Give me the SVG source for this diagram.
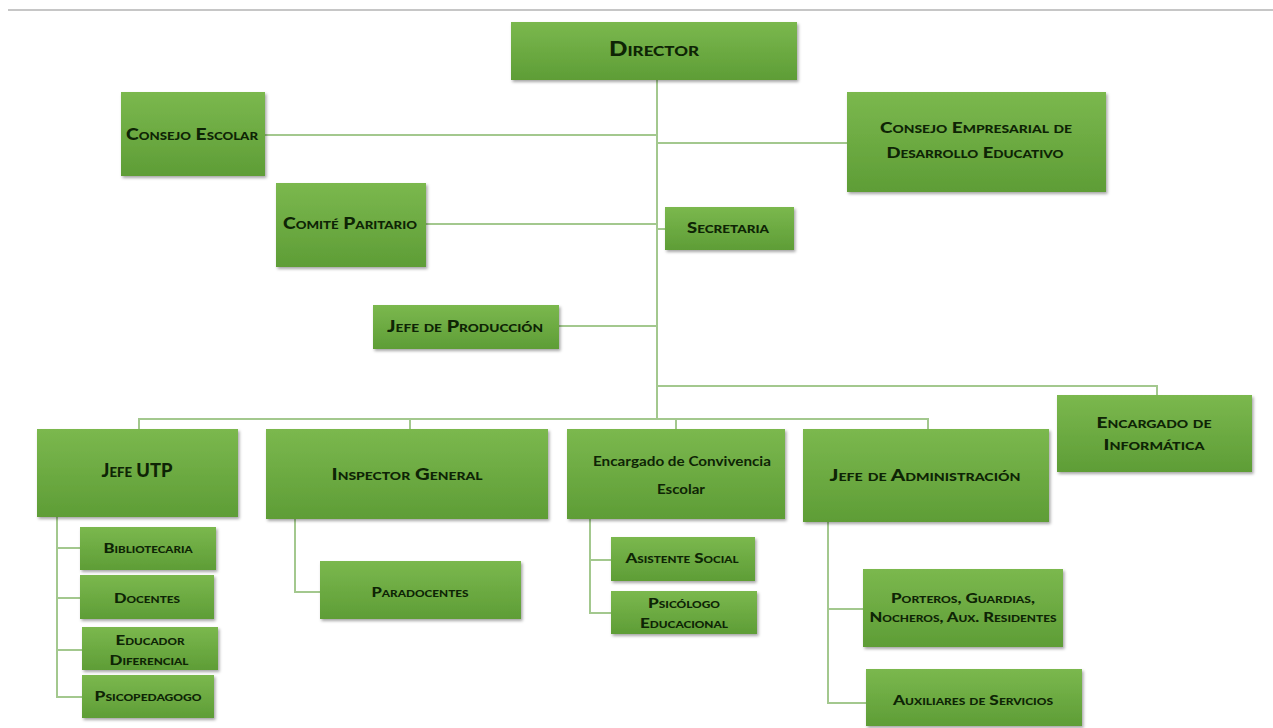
<svg xmlns="http://www.w3.org/2000/svg" width="1273" height="728" viewBox="0 0 1273 728">
<defs>
<linearGradient id="g" x1="0" y1="0" x2="0" y2="1">
<stop offset="0" stop-color="#7bb84e"/>
<stop offset="1" stop-color="#5e9d36"/>
</linearGradient>
<filter id="sh" x="-10%" y="-10%" width="125%" height="130%">
<feDropShadow dx="1.5" dy="2" stdDeviation="1.5" flood-color="#000" flood-opacity="0.35"/>
</filter>
</defs>
<style>
.box{fill:url(#g);filter:url(#sh);}
.t{font-family:Lato,"Open Sans","Liberation Sans",sans-serif;font-weight:900;font-variant:small-caps;fill:#0e2405;text-anchor:middle;}
.n{font-variant:normal;font-weight:bold;}
.c{fill:none;stroke:#a3c88e;stroke-width:2;}
</style>
<rect width="1273" height="728" fill="#ffffff"/>
<line x1="8" y1="10" x2="1273" y2="10" stroke="#c6c6c6" stroke-width="2"/>
<g id="connectors">
<path class="c" d="M657 80V419"/>
<path class="c" d="M265 135H657"/>
<path class="c" d="M657 143H847"/>
<path class="c" d="M426 224H657"/>
<path class="c" d="M657 229H665"/>
<path class="c" d="M559 326H657"/>
<path class="c" d="M657 386H1157V395"/>
<path class="c" d="M139 429V419H928V429"/>
<path class="c" d="M410 419V429"/>
<path class="c" d="M676 419V429"/>
<path class="c" d="M57 517V697H82M57 548H80M57 598H80M57 650H82"/>
<path class="c" d="M295 519V592H320"/>
<path class="c" d="M590 519V613H611M590 560H611"/>
<path class="c" d="M828 522V703H866M828 609H863"/>
</g>
<g id="director"><rect class="box" x="511" y="22" width="286" height="58"/><text class="t" x="654" y="56" font-size="20" textLength="90" lengthAdjust="spacingAndGlyphs">Director</text></g>
<g id="consejo-escolar"><rect class="box" x="121" y="92" width="144" height="84"/><text class="t" x="192" y="140" font-size="16" textLength="132" lengthAdjust="spacingAndGlyphs">Consejo Escolar</text></g>
<g id="consejo-empresarial"><rect class="box" x="847" y="92" width="259" height="100"/><text class="t" x="976" y="133" font-size="15" textLength="192" lengthAdjust="spacingAndGlyphs">Consejo Empresarial de</text><text class="t" x="975" y="158" font-size="15" textLength="177" lengthAdjust="spacingAndGlyphs">Desarrollo Educativo</text></g>
<g id="comite-paritario"><rect class="box" x="276" y="183" width="150" height="84"/><text class="t" x="350" y="229" font-size="16" textLength="134" lengthAdjust="spacingAndGlyphs">Comité Paritario</text></g>
<g id="secretaria"><rect class="box" x="665" y="207" width="129" height="43"/><text class="t" x="728" y="233" font-size="15" textLength="82" lengthAdjust="spacingAndGlyphs">Secretaria</text></g>
<g id="jefe-produccion"><rect class="box" x="373" y="305" width="186" height="44"/><text class="t" x="465" y="332" font-size="16" textLength="156" lengthAdjust="spacingAndGlyphs">Jefe de Producción</text></g>
<g id="informatica"><rect class="box" x="1057" y="395" width="195" height="77"/><text class="t" x="1154" y="428" font-size="15" textLength="115" lengthAdjust="spacingAndGlyphs">Encargado de</text><text class="t" x="1154" y="450" font-size="15" textLength="101" lengthAdjust="spacingAndGlyphs">Informática</text></g>
<g id="jefe-utp"><rect class="box" x="37" y="429" width="201" height="88"/><text class="t" x="137" y="477" font-size="18" textLength="71" lengthAdjust="spacingAndGlyphs">Jefe UTP</text></g>
<g id="inspector-general"><rect class="box" x="266" y="429" width="282" height="90"/><text class="t" x="407" y="480" font-size="16" textLength="151" lengthAdjust="spacingAndGlyphs">Inspector General</text></g>
<g id="convivencia"><rect class="box" x="567" y="429" width="218" height="90"/><text class="t n" x="682" y="466" font-size="14" textLength="178" lengthAdjust="spacingAndGlyphs">Encargado de Convivencia</text><text class="t n" x="681" y="494" font-size="14" textLength="48" lengthAdjust="spacingAndGlyphs">Escolar</text></g>
<g id="jefe-administracion"><rect class="box" x="803" y="429" width="246" height="93"/><text class="t" x="925" y="481" font-size="16" textLength="191" lengthAdjust="spacingAndGlyphs">Jefe de Administración</text></g>
<g id="bibliotecaria"><rect class="box" x="80" y="527" width="136" height="43"/><text class="t" x="148" y="553" font-size="13" textLength="89" lengthAdjust="spacingAndGlyphs">Bibliotecaria</text></g>
<g id="docentes"><rect class="box" x="80" y="575" width="134" height="44"/><text class="t" x="147" y="603" font-size="14" textLength="66" lengthAdjust="spacingAndGlyphs">Docentes</text></g>
<g id="educador-diferencial"><rect class="box" x="82" y="627" width="136" height="43"/><text class="t" x="150" y="645" font-size="13" textLength="69" lengthAdjust="spacingAndGlyphs">Educador</text><text class="t" x="149" y="665" font-size="13" textLength="79" lengthAdjust="spacingAndGlyphs">Diferencial</text></g>
<g id="psicopedagogo"><rect class="box" x="82" y="675" width="132" height="43"/><text class="t" x="148" y="701" font-size="13" textLength="107" lengthAdjust="spacingAndGlyphs">Psicopedagogo</text></g>
<g id="paradocentes"><rect class="box" x="320" y="561" width="201" height="58"/><text class="t" x="420" y="597" font-size="14" textLength="97" lengthAdjust="spacingAndGlyphs">Paradocentes</text></g>
<g id="asistente-social"><rect class="box" x="611" y="537" width="144" height="44"/><text class="t" x="682" y="563" font-size="13" textLength="113" lengthAdjust="spacingAndGlyphs">Asistente Social</text></g>
<g id="psicologo-educacional"><rect class="box" x="611" y="591" width="146" height="43"/><text class="t" x="684" y="608" font-size="13" textLength="72" lengthAdjust="spacingAndGlyphs">Psicólogo</text><text class="t" x="684" y="628" font-size="13" textLength="88" lengthAdjust="spacingAndGlyphs">Educacional</text></g>
<g id="porteros"><rect class="box" x="863" y="569" width="200" height="78"/><text class="t" x="963" y="603" font-size="14" textLength="144" lengthAdjust="spacingAndGlyphs">Porteros, Guardias,</text><text class="t" x="963" y="622" font-size="14" textLength="187" lengthAdjust="spacingAndGlyphs">Nocheros, Aux. Residentes</text></g>
<g id="auxiliares-servicios"><rect class="box" x="866" y="669" width="216" height="57"/><text class="t" x="973" y="705" font-size="13" textLength="160" lengthAdjust="spacingAndGlyphs">Auxiliares de Servicios</text></g>
</svg>
